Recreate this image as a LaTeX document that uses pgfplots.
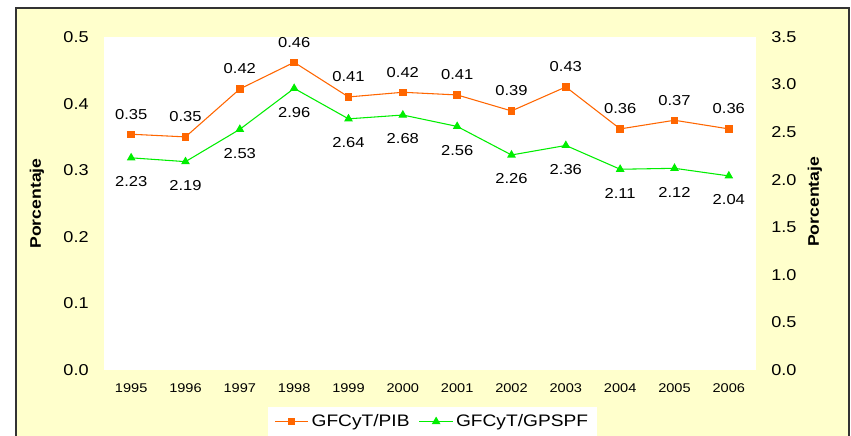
\documentclass[border=0pt]{standalone}
\usepackage{pgfplots}
\usepackage{pgfplotstable}
\pgfplotsset{compat=1.18}
\usepackage{fontspec}
\setmainfont[FakeStretch=1.15]{Liberation Sans}
\definecolor{bgy}{HTML}{FFFFCC}
\definecolor{ora}{HTML}{FF6600}
\definecolor{grn}{HTML}{00EE00}

\pgfplotstableread{
x y lab
0 0.354 0.35
1 0.350 0.35
2 0.422 0.42
3 0.462 0.46
4 0.410 0.41
5 0.417 0.42
6 0.413 0.41
7 0.389 0.39
8 0.425 0.43
9 0.362 0.36
10 0.375 0.37
11 0.362 0.36
}\pib

\pgfplotstableread{
x y lab
0 2.23 2.23
1 2.19 2.19
2 2.53 2.53
3 2.96 2.96
4 2.64 2.64
5 2.68 2.68
6 2.56 2.56
7 2.26 2.26
8 2.36 2.36
9 2.11 2.11
10 2.12 2.12
11 2.04 2.04
}\gps

\pgfplotsset{
  myax/.style={
    scale only axis, width=489pt, height=249.75pt,
    at={(0,0)}, anchor=south west,
    xmin=-0.5, xmax=11.5,
    axis line style={draw=none},
    major tick length=0pt,
    /pgf/number format/assume math mode=true,
    yticklabel style={font=\fontsize{11.8}{13}\selectfont, /pgf/number format/fixed, /pgf/number format/fixed zerofill, /pgf/number format/precision=1},
    label style={font=\fontsize{11.5}{13}\selectfont\bfseries},
  }
}

\begin{document}
\begin{tikzpicture}
\useasboundingbox (-78pt,-49.5pt) rectangle (560.25pt,277.5pt);
\fill[bgy] (-66pt,-60pt) rectangle (558.75pt,271.5pt);
\draw[black!80, line width=1pt] (-66pt,-60pt) rectangle (558.75pt,271.5pt);
\fill[white] (0,0) rectangle (489pt,249.75pt);

\begin{axis}[myax,
  ymin=0, ymax=0.5, ytick={0,0.1,...,0.5},
  yticklabel style={xshift=-8pt},
  xtick={0,...,11},
  xticklabels={1995,1996,1997,1998,1999,2000,2001,2002,2003,2004,2005,2006},
  xticklabel style={font=\fontsize{9.5}{11}\selectfont, yshift=-7pt},
  ylabel={Porcentaje},
  ylabel style={at={(axis description cs:-0.103,0.50)}, anchor=center},
]
\addplot[ora, line width=0.8pt, mark=square*, mark size=2.4pt,
  point meta=explicit symbolic, nodes near coords,
  nodes near coords align={center},
  every node near coord/.append style={black, yshift=15pt, font=\fontsize{10.8}{12}\selectfont}]
  table[x=x, y=y, meta=lab] {\pib};
\end{axis}

\begin{axis}[myax,
  ymin=0, ymax=3.5, ytick={0,0.5,...,3.5},
  axis y line*=right, axis x line=none,
  yticklabel style={xshift=8pt},
  ylabel={Porcentaje},
  ylabel style={at={(axis description cs:1.0905,0.505)}, anchor=center},
  legend columns=2,
  legend style={at={(axis description cs:0.504,-0.155)}, anchor=center, draw=none, fill=white,
    font=\fontsize{12.5}{14}\selectfont, inner xsep=5pt, inner ysep=4pt,
    /tikz/every even column/.append style={column sep=5pt}},
  legend image code/.code={\draw[mark repeat=2, mark phase=2] plot coordinates {(0cm,0cm) (0.44cm,0cm) (0.88cm,0cm)};},
]
\addlegendimage{ora, line width=0.8pt, mark=square*, mark size=2.4pt}
\addlegendentry{GFCyT/PIB}
\addplot[grn, line width=0.8pt, mark=triangle*, mark size=3pt,
  point meta=explicit symbolic, nodes near coords,
  nodes near coords align={center},
  every node near coord/.append style={black, yshift=-18pt, font=\fontsize{10.8}{12}\selectfont}]
  table[x=x, y=y, meta=lab] {\gps};
\addlegendentry{GFCyT/GPSPF}
\end{axis}
\end{tikzpicture}
\end{document}
